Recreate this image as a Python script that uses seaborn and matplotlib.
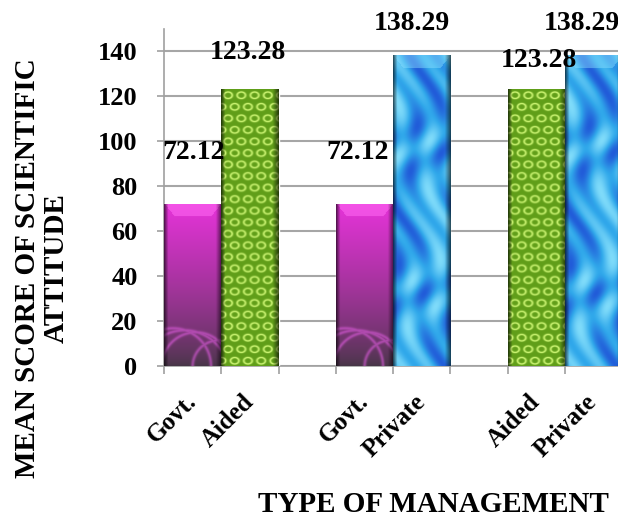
import numpy as np
import pandas as pd
import matplotlib
matplotlib.use('Agg')
import matplotlib.pyplot as plt
import seaborn as sns

# 数据
management = ['Govt.', 'Aided', 'Govt.', 'Private', 'Aided', 'Private']
pair = [0, 0, 1, 1, 2, 2]
scores = [72.12, 123.28, 72.12, 138.29, 123.28, 138.29]
yticks = [0, 20, 40, 60, 80, 100, 120, 140]

# 数值标签相对柱顶的偏移(像素)
label_dx = [1, -2, -7, -10, 3, -12]
label_dy = [51, 37, 51, 32, 29, 32]

colors = {'Govt.': '#C23AB8', 'Aided': '#6AA52A', 'Private': '#2F97DD'}

sns.set_theme(style='white')
plt.rcParams['font.family'] = ['Liberation Serif', 'DejaVu Serif']
plt.rcParams['font.weight'] = 'bold'
plt.rcParams['text.color'] = 'black'
plt.rcParams['xtick.labelcolor'] = 'black'
plt.rcParams['ytick.labelcolor'] = 'black'

# 每组两根柱子, 组后空一格
slot = [3 * p + i % 2 for i, p in enumerate(pair)]
df = pd.DataFrame({'slot': slot, 'score': scores, 'type': management})

fig = plt.figure(figsize=(6.18, 5.18), dpi=100)
ax = fig.add_axes([164 / 618, 152 / 518, 458 / 618, 337 / 518])
sns.barplot(data=df, x='slot', y='score', hue='type', order=list(range(8)),
            palette=colors, dodge=False, width=1.0, saturation=1,
            legend=False, ax=ax, zorder=3)
ax.set_xlim(-0.5, 7.5)
ax.set_ylim(0, 150)


def texture(kind, nw, nh):
    u = np.linspace(0, 1, nw)[None, :]
    v = np.linspace(1, 0, nh)[:, None]   # 1 = 顶部
    rows = np.arange(nh)[:, None]
    edge = np.clip(np.minimum(u / 0.07, (1 - u) / 0.10), 0, 1)
    bevel = (rows < 13) & (np.abs(u - 0.5) < 0.5 - 0.014 * rows)
    if kind == 'Govt.':
        top = np.array([0.90, 0.20, 0.85])
        bot = np.array([0.28, 0.21, 0.28])
        t = np.clip(v, 0, 1) ** 0.75
        img = bot + (top - bot) * t[..., None]
        img = np.broadcast_to(img, (nh, nw, 3)).copy()
        img[bevel] = img[bevel] * 0.45 + np.array([1.0, 0.42, 0.95]) * 0.55
        # 底部浅色弧线
        yy = (nh - rows).astype(float)
        xx = u * nw
        arcs = np.zeros((nh, nw))
        for cx, cy, rr in [(0.15, 0, 38), (0.55, 0, 34), (0.95, 0, 26), (0.35, -8, 44)]:
            d = np.sqrt((xx - cx * nw) ** 2 + (yy - cy) ** 2)
            arcs = np.maximum(arcs, np.exp(-((d - rr) / 1.6) ** 2))
        img = img + (np.array([0.85, 0.35, 0.85]) - img) * (0.6 * arcs)[..., None]
    elif kind == 'Private':
        x = u * nw
        y = v * nh
        s = np.sin(x / 6.5 + 2.5 * np.sin(y / 23.0)) * np.cos(y / 17.0 + x / 15.0)
        light = np.array([0.50, 0.86, 0.98])
        dark = np.array([0.13, 0.36, 0.85])
        base = np.array([0.19, 0.66, 0.92])
        s = s[..., None]
        img = np.where(s > 0, base + (light - base) * s, base + (base - dark) * s)
        img = np.broadcast_to(img, (nh, nw, 3)).copy()
        img[bevel] = img[bevel] * 0.55 + np.array([0.55, 0.88, 1.0]) * 0.45
    else:
        x = np.arange(nw)[None, :] * np.ones((nh, 1))
        y = np.arange(nh)[:, None] * np.ones((1, nw))
        cw, ch = 13.0, 11.5
        row = np.floor(y / ch)
        xs = x + (row % 2) * cw / 2
        dx = (xs % cw) / cw - 0.5
        dy = (y % ch) / ch - 0.5
        r = np.sqrt((dx / 0.5) ** 2 + (dy / 0.45) ** 2)
        ring = np.exp(-((r - 0.62) / 0.17) ** 2)
        base = np.array([0.38, 0.62, 0.10])
        light = np.array([0.80, 0.96, 0.45])
        img = base + (light - base) * ring[..., None]
    img = img * (0.40 + 0.60 * edge)[..., None]
    return np.clip(img, 0, 1)


bars = sorted([p for p in ax.patches if p.get_height() > 0], key=lambda p: p.get_x())
fig.canvas.draw()
for b, kind in zip(bars, management):
    x0, w, h = b.get_x(), b.get_width(), b.get_height()
    (px0, py0), (px1, py1) = ax.transData.transform([(x0, 0), (x0 + w, h)])
    img = texture(kind, max(int(px1 - px0), 2), max(int(py1 - py0), 2))
    im = ax.imshow(img, extent=(x0, x0 + w, 0, h), aspect='auto', zorder=3.5,
                   interpolation='bilinear')
    im.set_clip_path(b)
ax.set_xlim(-0.5, 7.5)
ax.set_ylim(0, 150)

# 数值标签
for b, val, dx, dy in zip(bars, scores, label_dx, label_dy):
    ax.annotate(f'{val:.2f}', (b.get_x() + b.get_width() / 2, val),
                xytext=(dx * 0.72, dy * 0.72), textcoords='offset points',
                ha='center', va='center', fontsize=20, fontweight='bold',
                color='black', annotation_clip=False, zorder=5)

# 坐标轴
ax.set_yticks(yticks)
ax.set_yticklabels([str(t) for t in yticks])
ax.yaxis.grid(True, color='#A6A6A6', linewidth=1.5, zorder=0)
ax.set_axisbelow(True)
ax.tick_params(axis='y', which='major', length=5, width=1.2, color='#A0A0A0',
               labelsize=19, pad=14, left=True)
ax.set_xticks(range(8))
ax.set_xticklabels(['Govt.', 'Aided', '', 'Govt.', 'Private', '', 'Aided', 'Private'],
                   rotation=45, ha='right', va='center', rotation_mode='anchor')
ax.set_xticks(np.arange(-0.5, 8.0, 1.0), minor=True)
ax.tick_params(axis='x', which='major', length=0, labelsize=18, pad=23)
ax.tick_params(axis='x', which='minor', length=6, width=1.2, color='#A0A0A0', bottom=True)
for lab in ax.get_yticklabels() + ax.get_xticklabels():
    lab.set_fontweight('bold')
for side in ['top', 'right']:
    ax.spines[side].set_visible(False)
for side in ['left', 'bottom']:
    ax.spines[side].set_color('#A0A0A0')
    ax.spines[side].set_linewidth(1.2)
ax.set_xlabel('')
ax.set_ylabel('')

fig.text(42 / 618, 1 - 268 / 518, 'MEAN SCORE OF SCIENTIFIC\nATTITUDE', rotation=90,
         ha='center', va='center', fontsize=21, fontweight='bold', linespacing=1.05)
fig.text(433 / 618, 1 - 505 / 518, 'TYPE OF MANAGEMENT', ha='center', va='center',
         fontsize=21, fontweight='bold')

fig.savefig('out.png', dpi=100)
